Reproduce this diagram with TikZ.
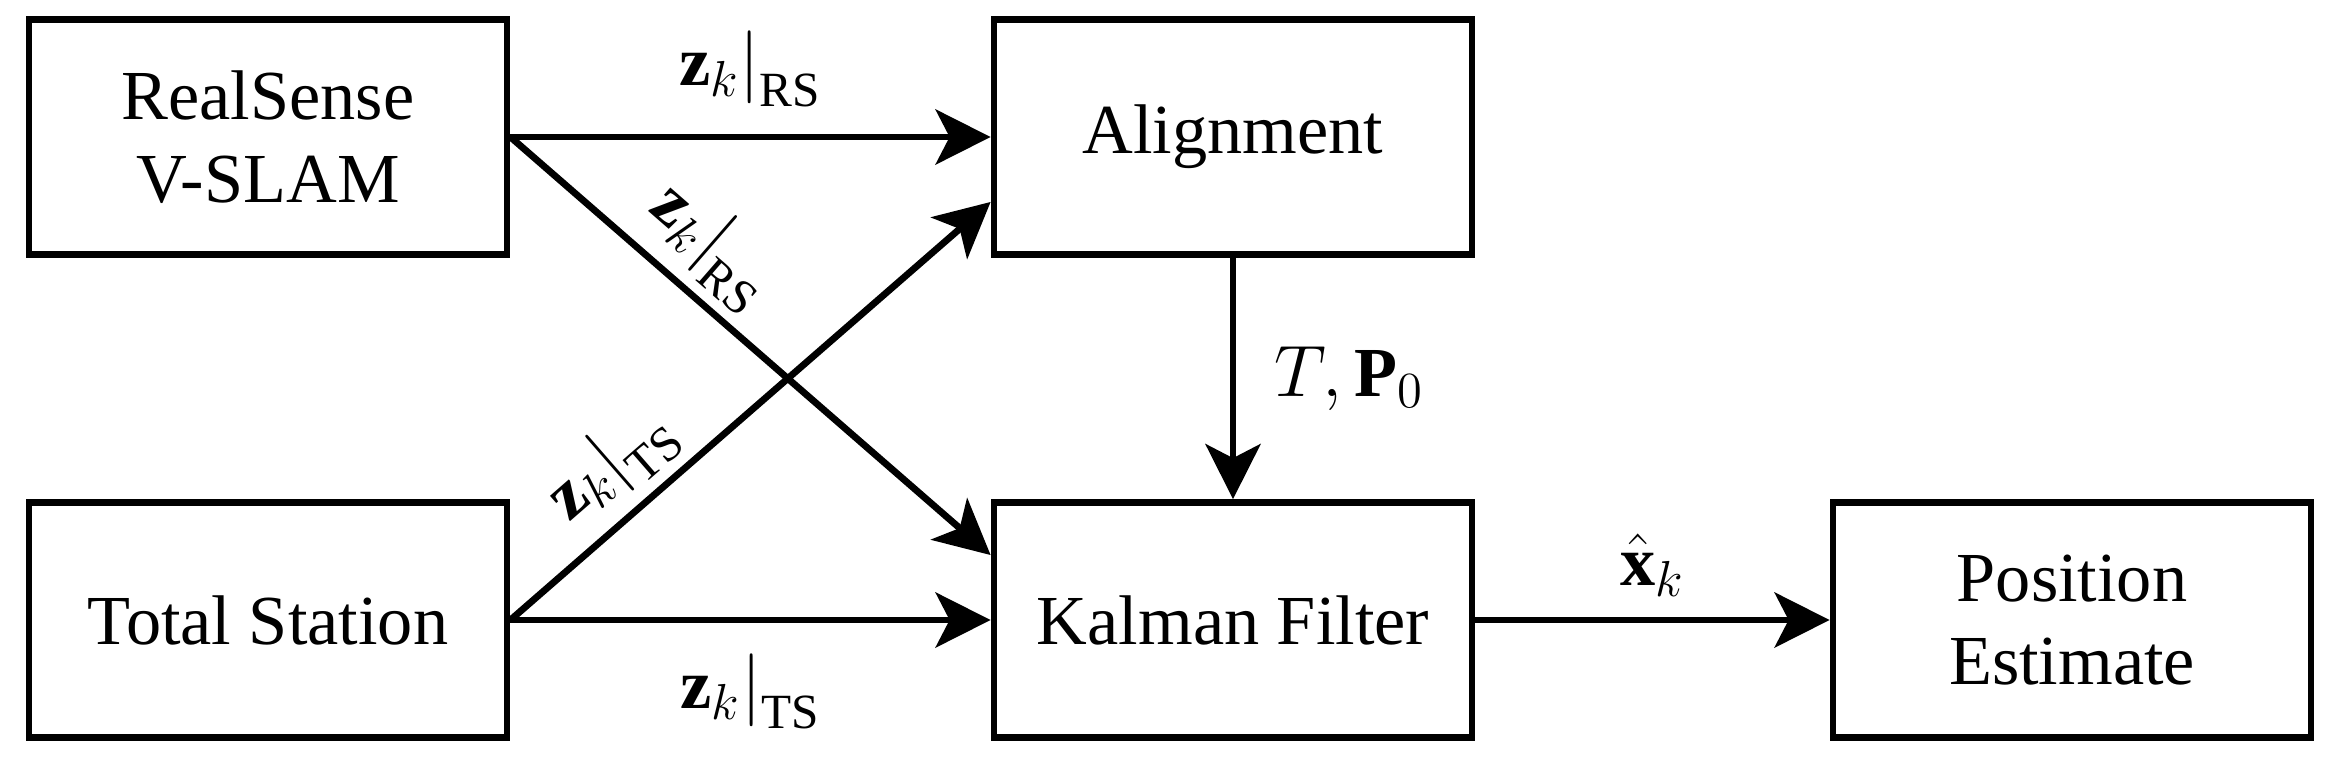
\documentclass[tikz,border=0pt]{standalone}
\usepackage{fontspec}
\setmainfont{Liberation Serif}
\usetikzlibrary{arrows.meta,positioning}
\begin{document}
\begin{tikzpicture}[x=1cm,y=1cm,
  box/.style={draw, line width=0.068cm, minimum width=4.78cm, minimum height=2.35cm,
    align=center, inner sep=0pt, font=\fontsize{20}{23.6}\selectfont},
  conn/.style={line width=0.068cm, -{Stealth[length=0.55cm,width=0.55cm,inset=0.14cm]}},
  lab/.style={inner sep=0pt, font=\fontsize{20}{24}\selectfont}]
\useasboundingbox (0,0) rectangle (23.33,7.64);
\node[box] (rs) at (2.68,6.27) {RealSense\\V-SLAM};
\node[box] (ts) at (2.68,1.44) {Total Station};
\node[box] (al) at (12.33,6.27) {Alignment};
\node[box] (kf) at (12.33,1.44) {Kalman Filter};
\node[box] (pe) at (20.72,1.44) {Position\\Estimate};

\draw[conn] (rs.east) -- node[lab, above=0.27cm] {$\mathbf{z}_k\big|_{\mathrm{RS}}$} (al.west);
\draw[conn] (rs.east) -- node[lab, sloped, pos=0.35, above=0.1cm] {$\mathbf{z}_k\big|_{\mathrm{RS}}$} (kf.165);
\draw[conn] (ts.east) -- node[lab, sloped, pos=0.28, above=0.1cm] {$\mathbf{z}_k\big|_{\mathrm{TS}}$} (al.195);
\draw[conn] (ts.east) -- node[lab, below=0.3cm] {$\mathbf{z}_k\big|_{\mathrm{TS}}$} (kf.west);
\draw[conn] (al.south) -- node[lab, right=0.38cm] {$T,\mathbf{P}_0$} (kf.north);
\draw[conn] (kf.east) -- node[lab, above=0.2cm] {$\hat{\mathbf{x}}_k$} (pe.west);
\end{tikzpicture}
\end{document}
